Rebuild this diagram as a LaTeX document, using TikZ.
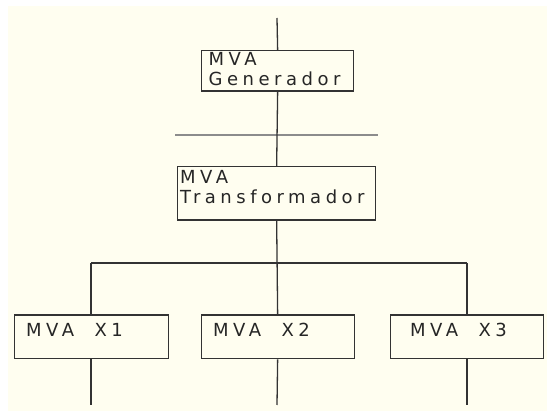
\documentclass[tikz,border=0pt]{standalone}
\usepackage{fontspec}
\setmainfont{DejaVu Sans}[LetterSpace=25]
\begin{document}
\begin{tikzpicture}[x=1pt,y=-1pt,
  wire/.style={draw=black!80, line width=1.3pt},
  busbar/.style={draw=black!45, line width=1.8pt},
  mvabox/.style={draw=black!80, line width=1.3pt, inner sep=0pt, anchor=north west},
  lbl/.style={anchor=base west, inner sep=0pt, font=\fontsize{18}{20}\selectfont, text=black!85}]
  % page and sheet
  \useasboundingbox (0,0) rectangle (547,411);
  \fill[white] (0,0) rectangle (547,411);
  \fill[yellow!6!white] (8,6) rectangle (547,411);

  % boxes
  \node[mvabox, minimum width=152pt, minimum height=40.5pt] (gen) at (201,50) {};
  \node[mvabox, minimum width=198pt, minimum height=53.5pt] (tra) at (177,166) {};
  \node[mvabox, minimum width=153.5pt, minimum height=43.5pt] (x1) at (14,314.5) {};
  \node[mvabox, minimum width=153pt, minimum height=43.5pt] (x2) at (200.5,314.5) {};
  \node[mvabox, minimum width=152.5pt, minimum height=43.5pt] (x3) at (390,314.5) {};

  % box texts
  \node[lbl] (gen1) at (208.5,66) {MVA};
  \node[lbl] (gen2) at (208.5,86) {Generador};
  \node[lbl] (tra1) at (180,183.5) {MVA};
  \node[lbl] (tra2) at (180,203.5) {Transformador};
  \node[lbl] (x1t) at (26,337) {MVA\ \ X1};
  \node[lbl] (x2t) at (213,337) {MVA\ \ X2};
  \node[lbl] (x3t) at (410,337) {MVA\ \ X3};

  % points of the network
  \coordinate (top) at (277,18);
  \coordinate (busL) at (175,135);
  \coordinate (busR) at (378,135);
  \coordinate (hL) at (91,263);
  \coordinate (hR) at (467,263);
  \coordinate (e1) at (91,405);
  \coordinate (e2) at (277,405);
  \coordinate (e3) at (467,405);

  % busbar
  \draw[busbar] (busL) -- (busR);

  % connectors
  \draw[wire] (top) -- (gen.north);
  \draw[wire] (gen.south) -- (tra.north);
  \draw[wire] (tra.south) -- (x2.north);
  \draw[wire] (hL) -- (hR);
  \draw[wire] (hL) -- (hL |- x1.north);
  \draw[wire] (hR) -- (hR |- x3.north);
  \draw[wire] (x1.south -| e1) -- (e1);
  \draw[wire] (x2.south) -- (e2);
  \draw[wire] (x3.south -| e3) -- (e3);
\end{tikzpicture}
\end{document}
